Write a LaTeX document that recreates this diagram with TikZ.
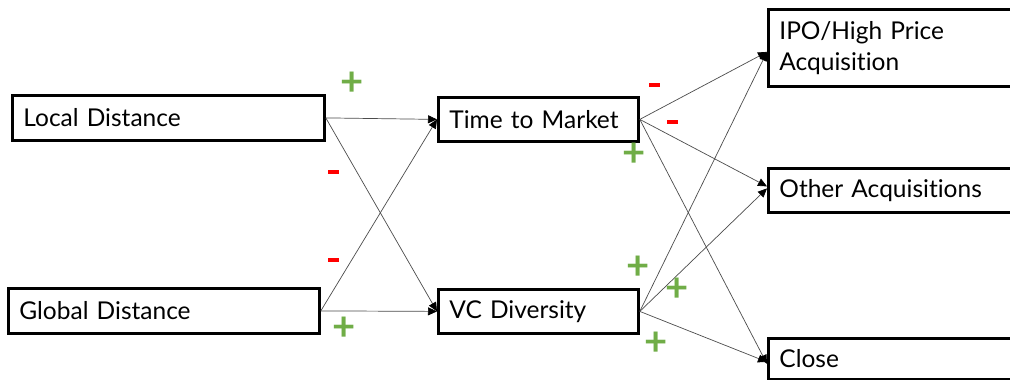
\documentclass[tikz,border=0pt]{standalone}
\usepackage{fontspec}
\setmainfont{Lato}[Ligatures={NoCommon}]
\usetikzlibrary{arrows.meta}
\definecolor{plusgreen}{HTML}{70AD47}
\definecolor{minusred}{HTML}{FF0000}
\tikzset{
  box/.style={draw=black, line width=2.8pt, rectangle, anchor=north west, inner xsep=11pt, inner ysep=0pt, align=left, font=\fontsize{24.5}{29}\selectfont},
  conn/.style={draw=black!70, line width=0.7pt, -{Triangle[length=9pt,width=8pt,fill=black,color=black]}},
  plus/.style={text=plusgreen, font=\fontsize{40}{40}\selectfont\bfseries, inner sep=0pt},
  minus/.style={fill=minusred, minimum width=11pt, minimum height=4.5pt, inner sep=0pt}
}
\begin{document}
\begin{tikzpicture}[x=1pt,y=-1pt]
\useasboundingbox (0,0) rectangle (1010,380);
\fill[white] (0,0) rectangle (1010,380);
% left column
\node[box, minimum width=312pt, minimum height=45pt, text width=290pt] (ld) at (11,94) {Local Distance};
\node[box, minimum width=311pt, minimum height=45pt, text width=289pt] (gd) at (7,287) {Global Distance};
% middle
\node[box, minimum width=200pt, minimum height=44pt, text width=178pt] (tm) at (437,96) {Time to Market};
\node[box, minimum width=200pt, minimum height=44pt, text width=178pt] (vc) at (437,288) {VC Diversity};
% right
\node[box, minimum width=260pt, minimum height=77pt, text width=238pt, font=\fontsize{24.5}{31}\selectfont] (ipo) at (767,8) {IPO/High Price\\Acquisition};
\node[box, minimum width=260pt, minimum height=44pt, text width=238pt] (oa) at (767,167) {Other Acquisitions};
\node[box, minimum width=260pt, minimum height=41pt, text width=238pt] (cl) at (767,337) {Close};
% connectors left -> middle
\draw[conn] (ld.east) -- (tm.west);
\draw[conn] (ld.east) -- (vc.west);
\draw[conn] (gd.east) -- (tm.west);
\draw[conn] (gd.east) -- (vc.west);
% middle -> right
\draw[conn] (tm.east) -- ([yshift=-4pt]ipo.west);
\draw[conn] (tm.east) -- ([yshift=4pt]oa.west);
\draw[conn] (tm.east) -- ([yshift=-5pt]cl.west);
\draw[conn] (vc.east) -- ([yshift=-4pt]ipo.west);
\draw[conn] (vc.east) -- ([yshift=2pt]oa.west);
\draw[conn] (vc.east) -- ([yshift=-3pt]cl.west);
% signs
\node[plus] (p1) at (352,84) {+};
\node[minus] (m1) at (333,172) {};
\node[minus] (m2) at (333,260) {};
\node[plus] (p2) at (344,329) {+};
\node[minus] (m3) at (654,85) {};
\node[minus] (m4) at (672,122) {};
\node[plus] (p3) at (634,155) {+};
\node[plus] (p4) at (638,268) {+};
\node[plus] (p5) at (677,290) {+};
\node[plus] (p6) at (656,344) {+};
\end{tikzpicture}
\end{document}
